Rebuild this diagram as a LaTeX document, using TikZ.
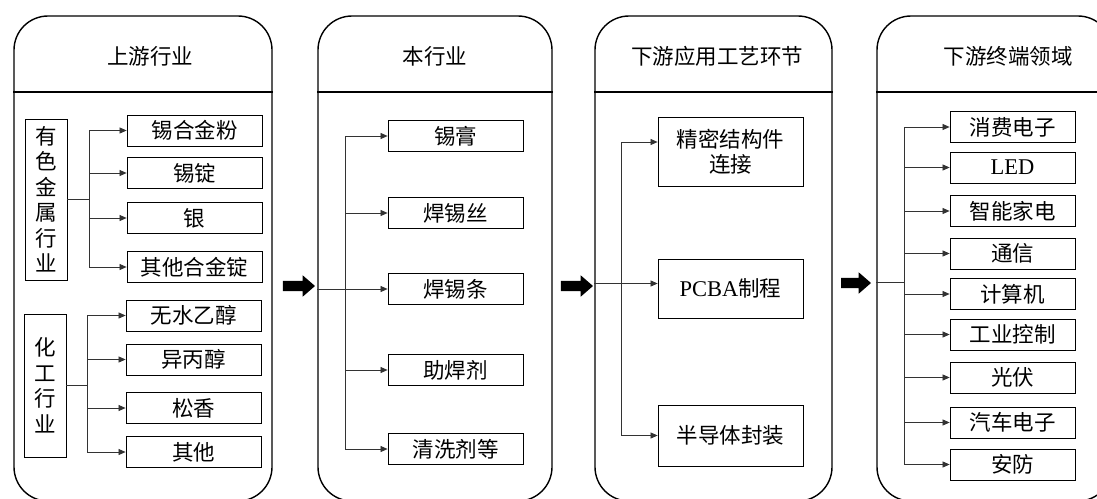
\documentclass[tikz,border=0pt]{standalone}
\usepackage{fontspec}
\setmainfont{Liberation Serif}
\newfontfamily\cjk{Noto Sans CJK SC}
\usetikzlibrary{shapes.arrows,arrows.meta}
\newcommand\itf{\cjk\fontsize{21.5}{25.5}\selectfont}
\begin{document}
\begin{tikzpicture}[x=1pt,y=-1pt,
  panelbox/.style={draw,line width=1.4pt,rounded corners=34pt,minimum height=485pt,inner sep=0pt},
  sepline/.style={line width=1.2pt},
  headtext/.style={font=\itf},
  item/.style={draw,line width=0.8pt,inner sep=0pt,minimum height=31pt,font=\itf,align=center},
  sidebox/.style={draw,line width=0.8pt,inner sep=0pt,minimum width=42pt,font=\itf,align=center},
  conn/.style={line width=0.7pt,draw=black!80},
  arr/.style={conn,-{Triangle[length=7pt,width=6pt]}},
  lat/.style={font=\fontsize{22.5}{25}\selectfont\rmfamily},
  bigarrow/.style={single arrow,fill=black,draw=none,inner xsep=0pt,inner ysep=5pt,
    single arrow head extend=5.5pt,single arrow tip angle=82,minimum height=32pt}
]
\useasboundingbox (0,0) rectangle (1097,498);
\clip (0,0) rectangle (1097,498);

% panels
\node[panelbox,minimum width=258pt] (P1) at (143,258.5) {};
\node[panelbox,minimum width=234pt] (P2) at (435,258.5) {};
\node[panelbox,minimum width=237pt] (P3) at (713.5,258.5) {};
\node[panelbox,minimum width=235pt] (P4) at (994.5,258.5) {};
\foreach \p in {P1,P2,P3,P4}{
  \coordinate (s\p) at (0,92);
  \draw[sepline] (\p.west |- s\p) -- (\p.east |- s\p);
}
\node[headtext] (H1) at (150,56) {上游行业};
\node[headtext] (H2) at (435,56) {本行业};
\node[headtext] (H3) at (717,56) {下游应用工艺环节};
\node[headtext] (H4) at (1008,56) {下游终端领域};

% big arrows
\node[bigarrow] (A1) at (296,286) {};
\node[bigarrow] (A2) at (574,286) {};
\node[bigarrow,minimum height=30pt] (A3) at (853,283) {};

% panel 1
\node[sidebox,minimum height=161pt] (m0) at (46,199.5) {有\\色\\金\\属\\行\\业};
\node[item,minimum width=135pt] (m1) at (194.5,130.5) {锡合金粉};
\node[item,minimum width=135pt] (m2) at (194.5,173) {锡锭};
\node[item,minimum width=135pt] (m3) at (194.5,218) {银};
\node[item,minimum width=135pt] (m4) at (194.5,267) {其他合金锭};
\coordinate (mb) at (89,0);
\draw[conn] (m0.east) -- (m0.east -| mb);
\draw[conn] (mb |- m1) -- (mb |- m4);
\foreach \i in {1,2,3,4}{\draw[arr] (mb |- m\i) -- (m\i.west);}

\node[sidebox,minimum height=143pt] (c0) at (45,385.5) {化\\工\\行\\业};
\node[item,minimum width=135pt] (c1) at (193.5,315.5) {无水乙醇};
\node[item,minimum width=135pt] (c2) at (193.5,359.5) {异丙醇};
\node[item,minimum width=135pt] (c3) at (193.5,408) {松香};
\node[item,minimum width=135pt] (c4) at (193.5,452) {其他};
\coordinate (cb) at (87,0);
\draw[conn] (c0.east) -- (c0.east -| cb);
\draw[conn] (cb |- c1) -- (cb |- c4);
\foreach \i in {1,2,3,4}{\draw[arr] (cb |- c\i) -- (c\i.west);}

% panel 2
\node[item,minimum width=135pt] (n1) at (455.5,136) {锡膏};
\node[item,minimum width=135pt] (n2) at (455.5,213) {焊锡丝};
\node[item,minimum width=135pt] (n3) at (455.5,289) {焊锡条};
\node[item,minimum width=135pt] (n4) at (455.5,370) {助焊剂};
\node[item,minimum width=135pt] (n5) at (455.5,449) {清洗剂等};
\coordinate (nb) at (345,0);
\draw[conn] (nb |- n1) -- (nb |- n5);
\draw[arr] (P2.west |- n3) -- (n3.west);
\foreach \i in {1,2,4,5}{\draw[arr] (nb |- n\i) -- (n\i.west);}

% panel 3
\node[item,minimum width=145pt,minimum height=69pt] (q1) at (730.5,151.5) {精密结构件\\连接};
\node[item,minimum width=145pt,minimum height=59pt] (q2) at (730.5,288.5) {{\fontsize{22.5}{25}\selectfont\rmfamily PCBA}制程};
\node[item,minimum width=145pt,minimum height=61pt] (q3) at (730.5,435.5) {半导体封装};
\coordinate (qb) at (621,0);
\coordinate (q1in) at ([yshift=9.5pt]q1.west);
\coordinate (q2in) at ([yshift=5pt]q2.west);
\draw[conn] (qb |- q1in) -- (qb |- q3);
\draw[arr] (qb |- q1in) -- (q1in);
\draw[arr] (P3.west |- q2in) -- (q2in);
\draw[arr] (qb |- q3) -- (q3.west);

% panel 4
\node[item,minimum width=125pt] (r1) at (1012.5,127) {消费电子};
\node[item,minimum width=125pt,lat] (r2) at (1012.5,167.5) {LED};
\node[item,minimum width=125pt] (r3) at (1012.5,211) {智能家电};
\node[item,minimum width=125pt] (r4) at (1012.5,253.5) {通信};
\node[item,minimum width=125pt] (r5) at (1012.5,294) {计算机};
\node[item,minimum width=125pt] (r6) at (1012.5,334.5) {工业控制};
\node[item,minimum width=125pt] (r7) at (1012.5,377.5) {光伏};
\node[item,minimum width=125pt] (r8) at (1012.5,422.5) {汽车电子};
\node[item,minimum width=125pt] (r9) at (1012.5,464.5) {安防};
\coordinate (rb) at (904,282);
\draw[conn] (P4.west |- rb) -- (rb);
\draw[conn] (rb |- r1) -- (rb |- r9);
\foreach \i in {1,...,9}{\draw[arr] (rb |- r\i) -- (r\i.west);}
\end{tikzpicture}
\end{document}
